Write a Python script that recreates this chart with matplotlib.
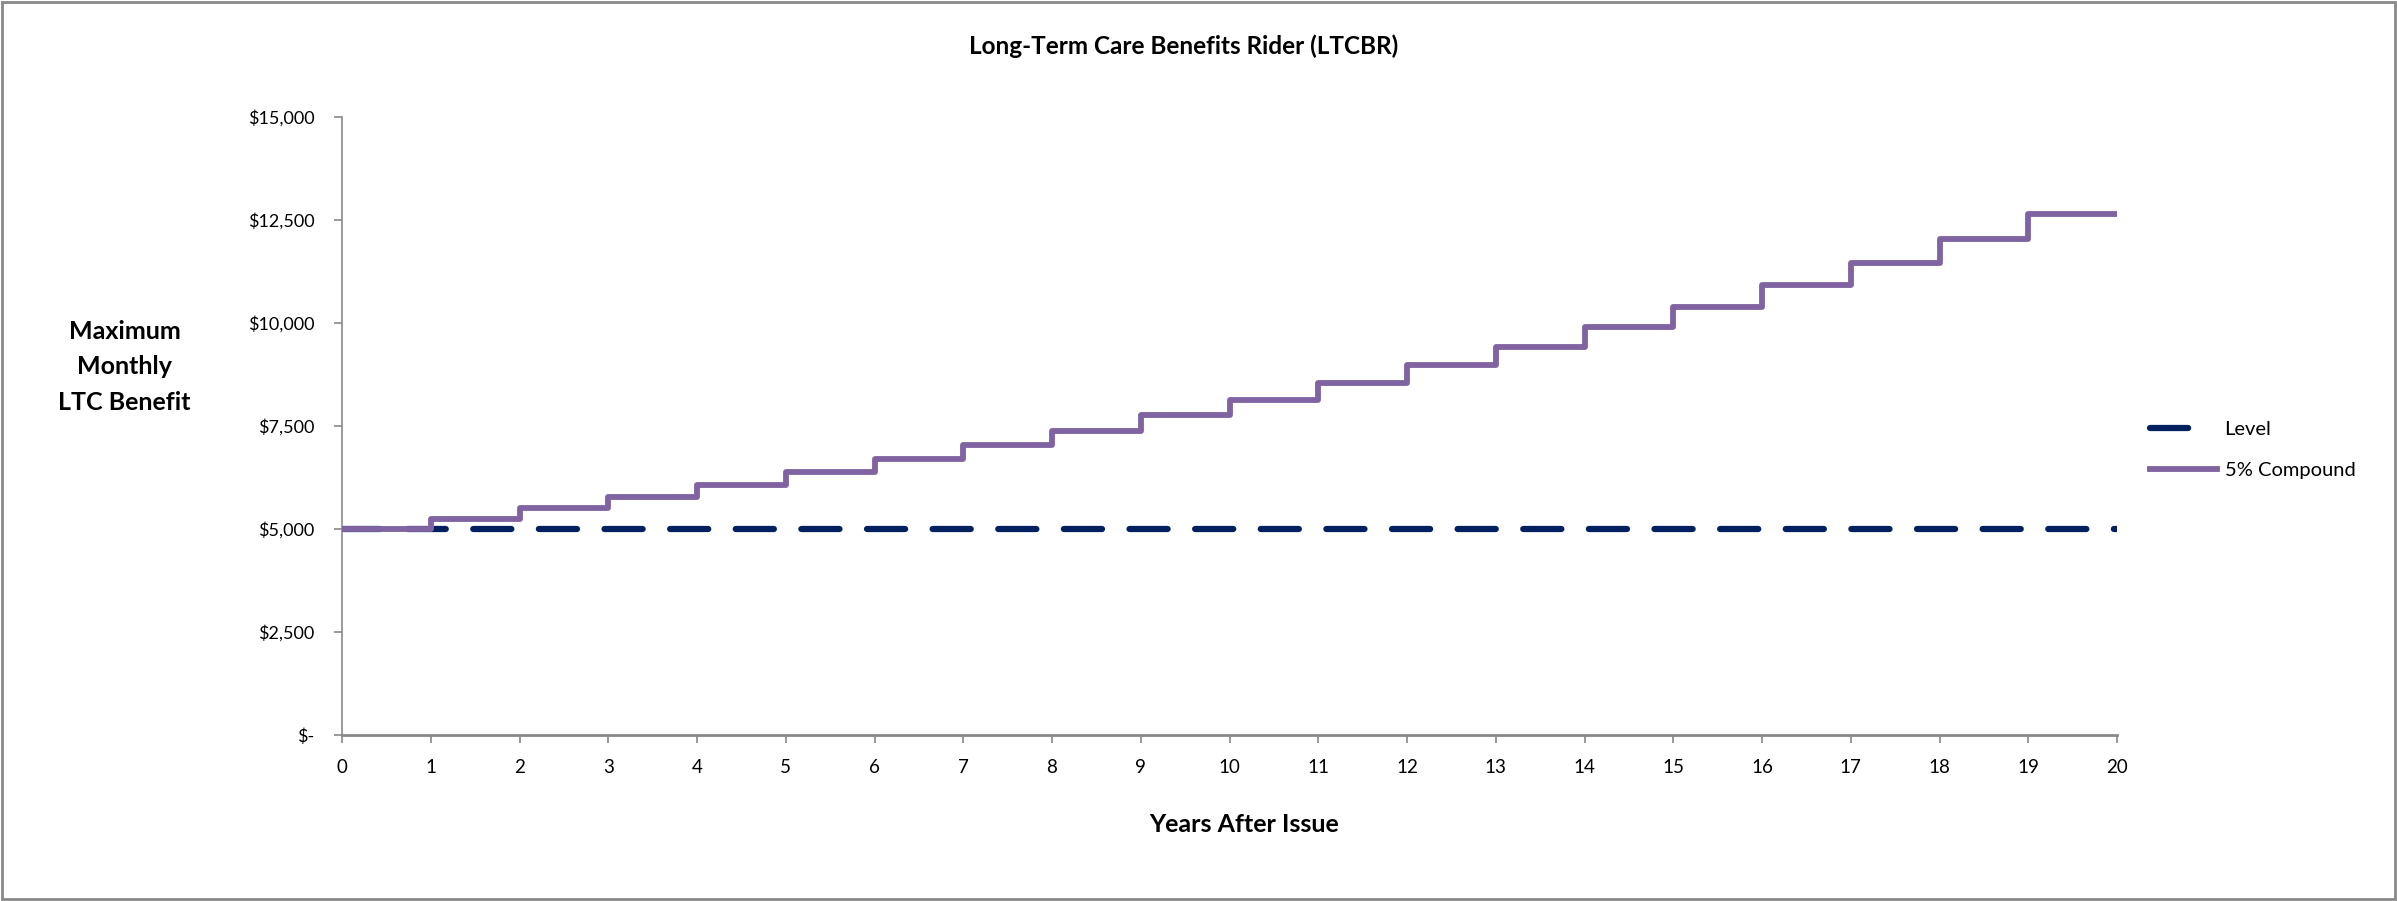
import matplotlib.pyplot as plt
from matplotlib.patches import Rectangle
from matplotlib.ticker import FuncFormatter

plt.rcParams['font.family'] = ['Lato', 'DejaVu Sans']

years = list(range(0, 21))
level = [5000] * 21
compound = [5000, 5250, 5513, 5788, 6078, 6381, 6700, 7036, 7387, 7757, 8144,
            8552, 8979, 9428, 9900, 10395, 10914, 11460, 12033, 12635, 12635]
y_ticks = [0, 2500, 5000, 7500, 10000, 12500, 15000]

fig = plt.figure(figsize=(23.97, 9.01), dpi=100)
ax = fig.add_axes([0.1427, 0.1842, 0.7405, 0.6859])

ax.plot(years, level, color='#002060', lw=4.5, linestyle=(0, (6.1, 4.4)),
        dash_capstyle='round', label='Level', zorder=2)
ax.plot(years, compound, color='#8064A2', lw=4.2, drawstyle='steps-post',
        label='5% Compound', zorder=3)

ax.set_xlim(0, 20)
ax.set_ylim(0, 15000)
ax.set_xticks(years)
ax.set_yticks(y_ticks)


def money(v, pos):
    if v == 0:
        return '$-'
    return '${:,.0f}'.format(v)


ax.yaxis.set_major_formatter(FuncFormatter(money))
ax.tick_params(axis='y', length=6, width=1.2, color='#898989', pad=14, labelsize=13)
ax.tick_params(axis='x', length=6, width=1.2, color='#898989', pad=11, labelsize=13.5)

for s in ['top', 'right']:
    ax.spines[s].set_visible(False)
ax.spines['left'].set_color('#898989')
ax.spines['left'].set_linewidth(1.2)
ax.spines['bottom'].set_color('#898989')
ax.spines['bottom'].set_linewidth(2)

fig.text(0.494, 0.949, 'Long-Term Care Benefits Rider (LTCBR)', ha='center', va='center',
         fontsize=17.5, fontweight='bold')
fig.text(0.052, 0.593, 'Maximum\nMonthly\nLTC Benefit', ha='center', va='center',
         fontsize=18, fontweight='bold', linespacing=1.65)
fig.text(0.519, 0.085, 'Years After Issue', ha='center', va='center',
         fontsize=18, fontweight='bold')

leg = ax.legend(loc='center left', bbox_to_anchor=(1.0186, 0.461), frameon=False,
                fontsize=14.5, handlelength=3.3, handletextpad=0.4, labelspacing=1.2,
                borderpad=0, borderaxespad=0)
# show only one dash in the legend key, like the original
leg.get_lines()[0].set_linestyle((0, (6.1, 12)))

fig.patches.append(Rectangle((0.001, 0.002), 0.998, 0.996, transform=fig.transFigure,
                             fill=False, edgecolor='#898989', lw=2))

fig.savefig('out.png', dpi=100)
